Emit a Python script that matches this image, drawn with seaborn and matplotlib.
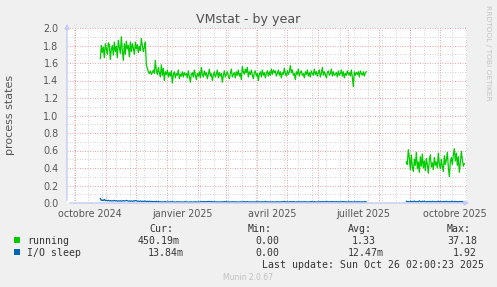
import numpy as np
import pandas as pd
import matplotlib
matplotlib.use("Agg")
import matplotlib.pyplot as plt
import seaborn as sns
from matplotlib.patches import Rectangle

# ---------------- data ----------------
series_names = ["running", "I/O sleep"]
series_colors = ["#00CC00", "#0066B3"]
segment_starts = ["2024-10-26", "2025-08-28"]

running_seg1 = [
    1.65, 1.80, 1.72, 1.78, 1.66, 1.82, 1.76, 1.70, 1.83, 1.81, 1.64, 1.76, 1.80, 1.69, 1.84, 1.73, 1.79, 1.66, 1.86, 1.78,
    1.71, 1.90, 1.74, 1.63, 1.82, 1.70, 1.85, 1.76, 1.80, 1.67, 1.84, 1.73, 1.82, 1.77, 1.70, 1.84, 1.76, 1.81, 1.72, 1.79,
    1.74, 1.88, 1.80, 1.73, 1.78, 1.84,
    1.58, 1.54, 1.50, 1.48, 1.51, 1.47, 1.49, 1.52, 1.48, 1.63, 1.51, 1.47, 1.55, 1.49, 1.44, 1.58, 1.46, 1.54, 1.40, 1.50,
    1.47, 1.52, 1.44, 1.49, 1.45, 1.51, 1.37, 1.47, 1.50, 1.43, 1.48, 1.46, 1.52, 1.42, 1.47, 1.45, 1.50, 1.44, 1.49, 1.46,
    1.48, 1.43, 1.51, 1.45, 1.38, 1.47, 1.49, 1.44, 1.52, 1.46, 1.41, 1.48, 1.45, 1.50, 1.43, 1.55, 1.47, 1.44, 1.51, 1.46,
    1.49, 1.42, 1.47, 1.53, 1.45, 1.48, 1.40, 1.46, 1.50, 1.44, 1.47, 1.52, 1.43, 1.49, 1.45, 1.48, 1.38, 1.46, 1.51, 1.44,
    1.47, 1.50, 1.45, 1.42, 1.48, 1.53, 1.44, 1.47, 1.49, 1.43, 1.50, 1.46, 1.52, 1.45, 1.48, 1.41, 1.56, 1.50, 1.47, 1.53,
    1.49, 1.55, 1.44, 1.50, 1.47, 1.52, 1.46, 1.42, 1.49, 1.51, 1.45, 1.48, 1.40, 1.47, 1.50, 1.44, 1.52, 1.46, 1.49, 1.43,
    1.48, 1.51, 1.45, 1.50, 1.46, 1.53, 1.47, 1.52, 1.49, 1.51, 1.45, 1.48, 1.52, 1.46, 1.50, 1.43, 1.49, 1.47, 1.54, 1.48,
    1.45, 1.51, 1.47, 1.50, 1.57, 1.49, 1.52, 1.46, 1.48, 1.41, 1.50, 1.47, 1.53, 1.45, 1.49, 1.51, 1.46, 1.48, 1.43, 1.50,
    1.47, 1.52, 1.45, 1.49, 1.44, 1.51, 1.48, 1.46, 1.53, 1.47, 1.50, 1.45, 1.49, 1.52, 1.44, 1.48, 1.55, 1.46, 1.50, 1.47,
    1.43, 1.49, 1.51, 1.46, 1.48, 1.53, 1.45, 1.50, 1.46, 1.47, 1.49, 1.44, 1.51, 1.46, 1.48, 1.52, 1.45, 1.50, 1.43, 1.48,
    1.46, 1.51, 1.47, 1.49, 1.45, 1.52, 1.44, 1.33, 1.50, 1.46, 1.49, 1.47, 1.50, 1.44, 1.51, 1.48, 1.46, 1.50, 1.45, 1.49,
    1.50,
]
running_seg2 = [
    0.47, 0.44, 0.61, 0.52, 0.38, 0.55, 0.41, 0.36, 0.50, 0.43, 0.58, 0.39, 0.47, 0.35, 0.53, 0.42, 0.56, 0.40, 0.48, 0.37,
    0.51, 0.44, 0.34, 0.49, 0.55, 0.41, 0.46, 0.38, 0.52, 0.43, 0.47, 0.40, 0.57, 0.45, 0.39, 0.50, 0.42, 0.36, 0.54, 0.44,
    0.49, 0.58, 0.41, 0.30, 0.47, 0.52, 0.44, 0.55, 0.62, 0.48, 0.57, 0.43, 0.53, 0.35, 0.46, 0.59, 0.50, 0.42, 0.45,
]
iosleep_seg1 = [
    0.052, 0.030, 0.034, 0.028, 0.041, 0.027, 0.032, 0.025, 0.030, 0.024, 0.028, 0.022, 0.026, 0.024, 0.030, 0.023, 0.027, 0.021, 0.025, 0.022,
    0.026, 0.020, 0.024, 0.028, 0.022, 0.025, 0.030, 0.027, 0.021, 0.024, 0.020, 0.023, 0.019, 0.025, 0.021, 0.028, 0.026, 0.020, 0.022, 0.019,
    0.023, 0.018, 0.021, 0.017, 0.020, 0.022, 0.016, 0.019, 0.017, 0.021, 0.015, 0.018, 0.016, 0.014, 0.017, 0.015, 0.019, 0.014, 0.016, 0.013,
    0.015, 0.012, 0.014, 0.011, 0.013, 0.016, 0.012, 0.010, 0.013, 0.011, 0.014, 0.012, 0.015, 0.011, 0.013, 0.010, 0.012, 0.014, 0.011, 0.013,
    0.012, 0.010, 0.013, 0.011, 0.012, 0.014, 0.011, 0.013, 0.010, 0.012, 0.011, 0.013, 0.010, 0.012, 0.011, 0.014, 0.012, 0.010, 0.013, 0.011,
    0.013, 0.016, 0.014, 0.017, 0.015, 0.013, 0.016, 0.014, 0.018, 0.015, 0.013, 0.016, 0.014, 0.012, 0.015, 0.013, 0.011, 0.014, 0.012, 0.013,
    0.011, 0.013, 0.012, 0.014, 0.016, 0.013, 0.015, 0.012, 0.014, 0.011, 0.013, 0.012, 0.015, 0.013, 0.011, 0.014, 0.012, 0.010, 0.013, 0.011,
    0.012, 0.014, 0.011, 0.013, 0.016, 0.014, 0.012, 0.015, 0.013, 0.011, 0.014, 0.012, 0.010, 0.013, 0.011, 0.012, 0.014, 0.012, 0.015, 0.013,
    0.011, 0.013, 0.015, 0.012, 0.014, 0.016, 0.013, 0.011, 0.014, 0.012, 0.013, 0.011, 0.014, 0.012, 0.010, 0.013, 0.015, 0.012, 0.014, 0.011,
    0.013, 0.012, 0.014, 0.016, 0.013, 0.015, 0.012, 0.014, 0.011, 0.013, 0.015, 0.012, 0.014, 0.016, 0.013, 0.011, 0.014, 0.012, 0.013, 0.015,
    0.012, 0.014, 0.011, 0.013, 0.012, 0.015, 0.013, 0.011, 0.014, 0.012, 0.013, 0.016, 0.014, 0.012, 0.015, 0.013, 0.011, 0.014, 0.012, 0.013,
    0.015, 0.013, 0.016, 0.014, 0.012, 0.015, 0.013, 0.017, 0.014, 0.012, 0.015, 0.013, 0.016, 0.014, 0.012, 0.013, 0.015, 0.012, 0.014, 0.013,
    0.012, 0.014, 0.016, 0.013, 0.015, 0.012, 0.014, 0.011, 0.013, 0.015, 0.012, 0.014, 0.013, 0.011, 0.014, 0.012, 0.013, 0.015, 0.012, 0.014,
    0.013, 0.011, 0.014, 0.012, 0.015, 0.013, 0.012,
]
iosleep_seg2 = [
    0.020, 0.014, 0.016, 0.013, 0.017, 0.015, 0.019, 0.014, 0.022, 0.016, 0.013, 0.018, 0.015, 0.024, 0.017, 0.014, 0.019, 0.016, 0.021, 0.015,
    0.013, 0.017, 0.014, 0.018, 0.016, 0.013, 0.020, 0.015, 0.017, 0.014, 0.012, 0.016, 0.019, 0.014, 0.017, 0.013, 0.015, 0.018, 0.014, 0.016,
    0.020, 0.015, 0.013, 0.017, 0.014, 0.019, 0.016, 0.013, 0.015, 0.018, 0.014, 0.016, 0.013, 0.017, 0.015, 0.014, 0.016, 0.013, 0.015,
]

y_ticks = [0.0, 0.2, 0.4, 0.6, 0.8, 1.0, 1.2, 1.4, 1.6, 1.8, 2.0]
y_tick_labels = ["0.0", "0.2", "0.4", "0.6", "0.8", "1.0", "1.2", "1.4", "1.6", "1.8", "2.0"]
x_label_months = ["2024-10-01", "2025-01-01", "2025-04-01", "2025-07-01", "2025-10-01"]
x_tick_labels = ["octobre 2024", "janvier 2025", "avril 2025", "juillet 2025", "octobre 2025"]

legend_cur = ["450.19m", "13.84m"]
legend_min = ["0.00", "0.00"]
legend_avg = ["1.33", "12.47m"]
legend_max = ["37.18", "1.92"]
last_update = "Last update: Sun Oct 26 02:00:23 2025"

# ---------------- dataframe ----------------
rows = []
values = {"running": [running_seg1, running_seg2], "I/O sleep": [iosleep_seg1, iosleep_seg2]}
for name in series_names:
    for seg_idx, (start, vals) in enumerate(zip(segment_starts, values[name])):
        dates = pd.date_range(start, periods=len(vals), freq="D")
        for d, v in zip(dates, vals):
            rows.append({"date": d, "value": v, "series": name, "segment": seg_idx})
df = pd.DataFrame(rows)

# ---------------- figure ----------------
W, H = 497, 287
BG = "#F0F0F0"
fig = plt.figure(figsize=(W / 100, H / 100), dpi=100, facecolor=BG)
L, R, T, B = 67, 467, 28, 203
ax = fig.add_axes([L / W, 1 - B / H, (R - L) / W, (B - T) / H])
ax.set_facecolor("white")

x0 = pd.Timestamp("2024-09-22 16:00")
x1 = x0 + pd.Timedelta(days=400)

# grid (dotted)
major_col = "#EFA8A8"
minor_col = "#D6D6D6"
dot = (0, (1, 1.5))
gkw = dict(lw=0.72, ls=dot)
for d in pd.date_range("2024-09-30", x1, freq="14D"):
    if d > x0:
        ax.axvline(d, color=minor_col, zorder=0, **gkw)
for d in pd.date_range("2024-10-01", x1, freq="MS"):
    ax.axvline(d, color=major_col, zorder=0.5, **gkw)
for y in np.arange(0.1, 2.01, 0.2):
    ax.axhline(y, color=minor_col, zorder=0, **gkw)
for y in y_ticks[1:]:
    ax.axhline(y, color=major_col, zorder=0.5, **gkw)

sns.lineplot(data=df, x="date", y="value", hue="series", units="segment",
             estimator=None, palette=dict(zip(series_names, series_colors)),
             hue_order=series_names, linewidth=0.9, legend=False, ax=ax, zorder=3)

ax.set_xlim(x0, x1)
ax.set_ylim(0, 2.0)
for s in ax.spines.values():
    s.set_visible(False)

tick_col = "#555555"
ax.set_yticks(y_ticks)
ax.set_yticklabels(y_tick_labels)
label_pos = [pd.Timestamp(m) + pd.Timedelta(days=15) for m in x_label_months]
ax.set_xticks(label_pos)
ax.set_xticklabels(x_tick_labels)
ax.tick_params(axis="both", length=0, colors=tick_col, labelsize=6.9)
ax.tick_params(axis="y", pad=6)
ax.tick_params(axis="x", pad=4)
ax.set_xlabel("")
ax.set_ylabel("")

# axis arrows
arrow_col = "#C4CCF4"
ax.annotate("", xy=(0, 1.04), xytext=(0, 0), xycoords="axes fraction",
            arrowprops=dict(arrowstyle="-|>", color=arrow_col, lw=1.0, mutation_scale=7),
            annotation_clip=False, zorder=5)
ax.annotate("", xy=(1.013, 0), xytext=(0, 0), xycoords="axes fraction",
            arrowprops=dict(arrowstyle="-|>", color=arrow_col, lw=1.0, mutation_scale=7),
            annotation_clip=False, zorder=5)

def px(x, y):
    return x / W, 1 - y / H

# title / labels
fig.text(*px(248.5, 20), "VMstat - by year", ha="center", va="center", fontsize=9.1, color="#505050")
fig.text(*px(10, 115), "process states", rotation=90, ha="center", va="center", fontsize=8.0, color=tick_col)
fig.text(*px(488, 53), "RRDTOOL / TOBI OETIKER", rotation=270, ha="center", va="center", fontsize=5.4, color="#C4C4C4")

# legend
mono = "DejaVu Sans Mono"
lfs = 7.1
lcol = "#333333"
for txt, x in zip(["Cur:", "Min:", "Avg:", "Max:"], [149, 248, 348, 447]):
    fig.text(*px(x, 232), txt, ha="left", va="baseline", family=mono, fontsize=lfs, color=lcol)
row_y = [243.5, 255.5]
cur_x = [138, 148]
min_x = [255, 255]
avg_x = [352, 348]
max_x = [447, 453]
for i, name in enumerate(series_names):
    yb = row_y[i]
    fig.patches.append(Rectangle(px(14, yb - 1), 6 / W, 6 / H, transform=fig.transFigure,
                                 facecolor=series_colors[i], edgecolor="none"))
    fig.text(*px(27, yb), name, ha="left", va="baseline", family=mono, fontsize=lfs, color=lcol)
    fig.text(*px(cur_x[i], yb), legend_cur[i], ha="left", va="baseline", family=mono, fontsize=lfs, color=lcol)
    fig.text(*px(min_x[i], yb), legend_min[i], ha="left", va="baseline", family=mono, fontsize=lfs, color=lcol)
    fig.text(*px(avg_x[i], yb), legend_avg[i], ha="left", va="baseline", family=mono, fontsize=lfs, color=lcol)
    fig.text(*px(max_x[i], yb), legend_max[i], ha="left", va="baseline", family=mono, fontsize=lfs, color=lcol)
fig.text(*px(262, 267.5), last_update, ha="left", va="baseline", family=mono, fontsize=lfs, color=lcol)
fig.text(*px(248, 277), "Munin 2.0.67", ha="center", va="center", fontsize=5.5, color="#C0C0C0")

fig.savefig("out.png", dpi=100, facecolor=BG)
